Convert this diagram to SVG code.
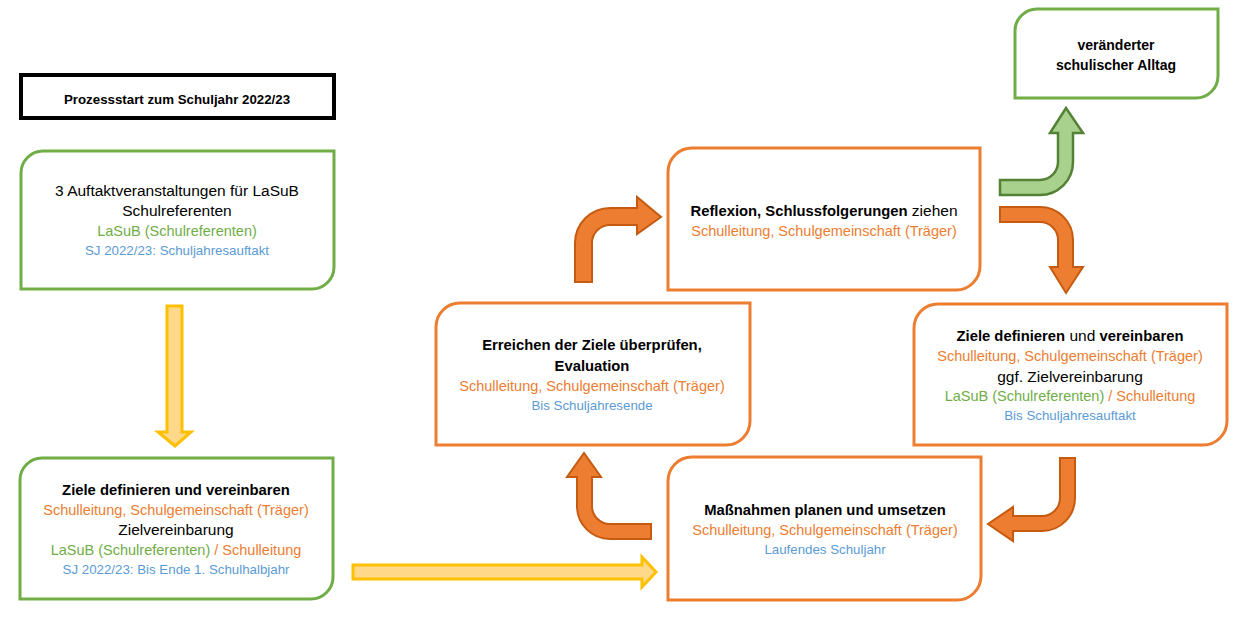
<svg xmlns="http://www.w3.org/2000/svg" width="1237" height="620" viewBox="0 0 1237 620">
<style>
text{font-family:"Liberation Sans",Arial,sans-serif;text-anchor:middle;}
.m{font-size:15.5px;fill:#000;}
.b{font-weight:bold;font-size:14.8px;}
.o{font-size:14.5px;fill:#ED7D31;}
.g{font-size:14.5px;fill:#70AD47;}
.u{font-size:13.3px;fill:#5B9BD5;}
.gb{fill:#fff;stroke:#70AD47;stroke-width:3;}
.ob{fill:#fff;stroke:#ED7D31;stroke-width:3;}
.oa{fill:#ED7D31;stroke:#C55A11;stroke-width:2;stroke-linejoin:miter;}
.ga{fill:#A9D18E;stroke:#548235;stroke-width:2.5;}
.ya{fill:#FFD88A;stroke:#FFC000;stroke-width:3;}
</style>
<rect width="1237" height="620" fill="#fff"/>
<g id="start">
<rect x="21" y="75" width="313" height="43" fill="#fff" stroke="#000" stroke-width="4"/>
<text x="177" y="104" class="m b" style="font-size:13.3px">Prozessstart zum Schuljahr 2022/23</text>
</g>
<g id="auftakt">
<path class="gb" d="M43,151 H334 V267 A22,22 0 0 1 312,289 H21 V173 A22,22 0 0 1 43,151 Z"/>
<text x="177" y="196" class="m">3 Auftaktveranstaltungen für LaSuB</text>
<text x="177" y="216" class="m">Schulreferenten</text>
<text x="177" y="236" class="g">LaSuB (Schulreferenten)</text>
<text x="177" y="255" class="u">SJ 2022/23: Schuljahresauftakt</text>
</g>
<g id="ziele1">
<path class="gb" d="M42,458 H333 V577 A22,22 0 0 1 311,599 H20 V480 A22,22 0 0 1 42,458 Z"/>
<text x="176" y="495" class="m b">Ziele definieren und vereinbaren</text>
<text x="176" y="515" class="o">Schulleitung, Schulgemeinschaft (Träger)</text>
<text x="176" y="535" class="m">Zielvereinbarung</text>
<text x="176" y="555" class="g">LaSuB (Schulreferenten) <tspan fill="#ED7D31">/ Schulleitung</tspan></text>
<text x="176" y="574" class="u">SJ 2022/23: Bis Ende 1. Schulhalbjahr</text>
</g>
<g id="reflexion">
<path class="ob" d="M692,148 H980 V266 A24,24 0 0 1 956,290 H668 V172 A24,24 0 0 1 692,148 Z"/>
<text x="824" y="216" class="m"><tspan class="b">Reflexion, Schlussfolgerungen</tspan> ziehen</text>
<text x="824" y="236" class="o">Schulleitung, Schulgemeinschaft (Träger)</text>
</g>
<g id="erreichen">
<path class="ob" d="M460,303 H750 V421 A24,24 0 0 1 726,445 H436 V327 A24,24 0 0 1 460,303 Z"/>
<text x="592" y="350" class="m b">Erreichen der Ziele überprüfen,</text>
<text x="592" y="371" class="m b">Evaluation</text>
<text x="592" y="391" class="o">Schulleitung, Schulgemeinschaft (Träger)</text>
<text x="592" y="410" class="u">Bis Schuljahresende</text>
</g>
<g id="ziele2">
<path class="ob" d="M938,304 H1227 V421 A24,24 0 0 1 1203,445 H914 V328 A24,24 0 0 1 938,304 Z"/>
<text x="1070" y="341" class="m"><tspan class="b">Ziele definieren</tspan> und <tspan class="b">vereinbaren</tspan></text>
<text x="1070" y="361" class="o">Schulleitung, Schulgemeinschaft (Träger)</text>
<text x="1070" y="382" class="m">ggf. Zielvereinbarung</text>
<text x="1070" y="401" class="g">LaSuB (Schulreferenten) <tspan fill="#ED7D31">/ Schulleitung</tspan></text>
<text x="1070" y="420" class="u">Bis Schuljahresauftakt</text>
</g>
<g id="massnahmen">
<path class="ob" d="M692,457 H981 V576 A24,24 0 0 1 957,600 H668 V481 A24,24 0 0 1 692,457 Z"/>
<text x="825" y="515" class="m b">Maßnahmen planen und umsetzen</text>
<text x="825" y="535" class="o">Schulleitung, Schulgemeinschaft (Träger)</text>
<text x="825" y="554" class="u">Laufendes Schuljahr</text>
</g>
<g id="alltag">
<path class="gb" d="M1037,9 H1218 V76 A22,22 0 0 1 1196,98 H1015 V31 A22,22 0 0 1 1037,9 Z"/>
<text x="1116" y="50" class="m b" style="font-size:14px">veränderter</text>
<text x="1116" y="70" class="m b" style="font-size:14px">schulischer Alltag</text>
</g>
<g id="connectors">
<path class="ya" d="M167,306 H182 V432 H191 L175,446 L158,432 H167 Z"/>
<path class="ya" d="M353,565 H642 V557 L656,572 L642,587 V579 H353 Z"/>
<path class="oa" d="M575,282 L575,243 A35,35 0 0 1 610,208 L637,208 L637,197 L661,217 L637,234 L637,225 L610,225 A18,18 0 0 0 592,243 L592,282 Z"/>
<path class="ga" d="M1000,180 L1040,180 A18,18 0 0 0 1058,162 L1058,133 L1050,133 L1066,108 L1083,133 L1073,133 L1073,162 A33,33 0 0 1 1040,195 L1000,195 Z"/>
<path class="oa" d="M1000,207 L1040,207 A33,33 0 0 1 1073,240 L1073,267 L1083,267 L1066,293 L1050,267 L1058,267 L1058,240 A18,18 0 0 0 1040,222 L1000,222 Z"/>
<path class="oa" d="M1060,458 L1075,458 L1075,498 A33,33 0 0 1 1042,531 L1013,531 L1013,541 L988,524 L1013,507 L1013,516 L1042,516 A18,18 0 0 0 1060,498 Z"/>
<path class="oa" d="M651,524 L610,524 A18,18 0 0 1 592,506 L592,477 L601,477 L584,453 L567,477 L577,477 L577,506 A33,33 0 0 0 610,539 L651,539 Z"/>
</g>
</svg>
